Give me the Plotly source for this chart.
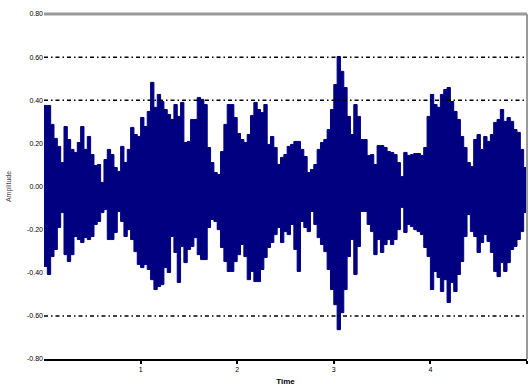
import numpy as np
import plotly.graph_objects as go

# Envelope of the waveform (upper / lower extremes per sample)
upper = [
    0.376, 0.376, 0.288, 0.223, 0.186, 0.111, 0.278, 0.218, 0.172, 0.158,
    0.204, 0.278, 0.172, 0.232, 0.148, 0.097, 0.102, 0.019, 0.125, 0.172,
    0.148, 0.088, 0.070, 0.186, 0.111, 0.172, 0.274, 0.241, 0.232, 0.320,
    0.278, 0.348, 0.483, 0.367, 0.427, 0.394, 0.357, 0.334, 0.311, 0.380,
    0.325, 0.390, 0.204, 0.209, 0.311, 0.311, 0.413, 0.404, 0.380,
    0.181, 0.111, 0.065, 0.056, 0.162, 0.288, 0.380, 0.380, 0.320, 0.246,
    0.218, 0.204, 0.241, 0.329, 0.390, 0.357, 0.343, 0.380, 0.195, 0.232,
    0.181, 0.102, 0.135, 0.148, 0.186, 0.195, 0.209, 0.209, 0.172, 0.139,
    0.065, 0.079, 0.102, 0.172, 0.204, 0.218, 0.264, 0.357, 0.473, 0.603,
    0.534, 0.459, 0.325, 0.241, 0.380, 0.325, 0.218, 0.218,
    0.144, 0.148, 0.102, 0.190, 0.190, 0.181, 0.162, 0.158, 0.148, 0.111,
    0.046, 0.158, 0.144, 0.148, 0.153, 0.153, 0.144, 0.181, 0.325, 0.427,
    0.380, 0.367, 0.427, 0.450, 0.459, 0.394, 0.348, 0.311, 0.232, 0.181,
    0.111, 0.093, 0.218, 0.241, 0.172, 0.232, 0.209, 0.241, 0.297, 0.311,
    0.357, 0.302, 0.320, 0.302, 0.264, 0.251, 0.172, 0.088, 0.102,
]
lower = [
    -0.371, -0.408, -0.325, -0.292, -0.190, -0.121, -0.316, -0.348, -0.316, -0.232,
    -0.246, -0.260, -0.237, -0.246, -0.232, -0.176, -0.162, -0.121, -0.107, -0.246,
    -0.246, -0.213, -0.116, -0.162, -0.232, -0.200, -0.246, -0.302, -0.362, -0.376,
    -0.362, -0.385, -0.432, -0.478, -0.464, -0.455, -0.376, -0.399, -0.232, -0.306,
    -0.445, -0.278, -0.353, -0.292, -0.278, -0.237, -0.316, -0.339, -0.339,
    -0.190, -0.153, -0.162, -0.200, -0.283, -0.348, -0.394, -0.394, -0.348, -0.316,
    -0.269, -0.325, -0.432, -0.394, -0.441, -0.441, -0.385, -0.329, -0.283, -0.260,
    -0.223, -0.190, -0.260, -0.209, -0.223, -0.176, -0.292, -0.394, -0.162, -0.190,
    -0.209, -0.116, -0.176, -0.237, -0.269, -0.302, -0.385, -0.478, -0.548, -0.664,
    -0.585, -0.478, -0.325, -0.246, -0.408, -0.278, -0.116, -0.116,
    -0.176, -0.209, -0.316, -0.246, -0.306, -0.269, -0.246, -0.269, -0.246, -0.200,
    -0.097, -0.213, -0.176, -0.186, -0.200, -0.209, -0.223, -0.283, -0.325, -0.478,
    -0.394, -0.422, -0.487, -0.432, -0.538, -0.445, -0.487, -0.408, -0.348, -0.232,
    -0.130, -0.209, -0.232, -0.306, -0.260, -0.223, -0.255, -0.306, -0.394, -0.418,
    -0.353, -0.394, -0.353, -0.292, -0.278, -0.246, -0.209, -0.121, -0.121,
]
time = np.linspace(0.0, 5.0, len(upper))

y_ticks = [0.8, 0.6, 0.4, 0.2, 0.0, -0.2, -0.4, -0.6, -0.8]
y_tick_labels = ["0.80", "0.60", "0.40", "0.20", "0.00", "-0.20", "-0.40", "-0.60", "-0.80"]
x_ticks = [1, 2, 3, 4, 5]
x_tick_labels = ["1", "2", "3", "4", "5"]
ref_levels = [0.6, 0.4, -0.6]

NAVY = "#000080"

fig = go.Figure()
fig.add_trace(go.Scatter(x=time, y=lower, mode="lines", line=dict(color=NAVY, width=1, shape="hv"),
                         hoverinfo="skip", showlegend=False))
fig.add_trace(go.Scatter(x=time, y=upper, mode="lines", line=dict(color=NAVY, width=1, shape="hv"),
                         fill="tonexty", fillcolor=NAVY, hoverinfo="skip", showlegend=False))

for lv in ref_levels:
    fig.add_shape(type="line", xref="paper", yref="y", x0=0, x1=1, y0=lv, y1=lv,
                  line=dict(color="black", width=1.5, dash="4px,3px,1.5px,3px"), layer="above")

# chart frame: gray top and right edges
fig.add_shape(type="line", xref="paper", yref="paper", x0=0, x1=1, y0=1, y1=1,
              line=dict(color="#9a9a9a", width=3), layer="above")
fig.add_shape(type="line", xref="paper", yref="paper", x0=1, x1=1, y0=0, y1=1,
              line=dict(color="#9a9a9a", width=2), layer="above")

font = dict(family="Liberation Sans, Arial, sans-serif", size=7, color="black")

fig.update_layout(
    width=529, height=392,
    margin=dict(l=44, r=2, t=14, b=33),
    paper_bgcolor="white", plot_bgcolor="white",
    font=font,
    xaxis=dict(range=[0, 5], tickvals=x_ticks, ticktext=x_tick_labels,
               showgrid=False, zeroline=False, showline=True, linecolor="black", linewidth=2,
               ticks="outside", ticklen=3, tickwidth=1.5, tickcolor="black",
               tickfont=dict(family="Liberation Sans, Arial, sans-serif", size=7, color="black"),
               title=dict(text="<b>Time</b>", font=dict(size=8, color="black"), standoff=6)),
    yaxis=dict(range=[-0.8, 0.8], tickvals=y_ticks, ticktext=y_tick_labels,
               showgrid=False, zeroline=False, showline=False, ticks="",
               tickfont=dict(family="Liberation Sans, Arial, sans-serif", size=7, color="black"),
               title=dict(text="Amplitude", font=dict(size=7, color="#444"), standoff=14)),
)

fig.write_html("out.html")
